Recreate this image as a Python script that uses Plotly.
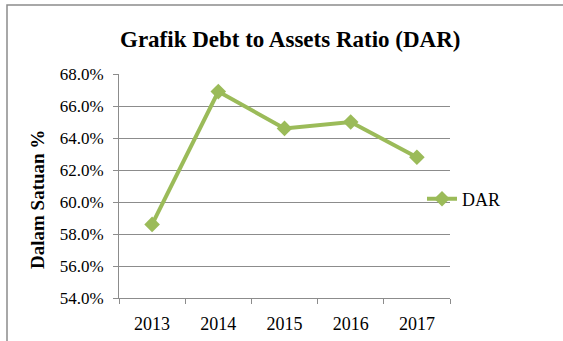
import plotly.graph_objects as go

years = ["2013", "2014", "2015", "2016", "2017"]
dar = [0.586, 0.669, 0.646, 0.650, 0.628]
series_name = "DAR"
title_text = "Grafik Debt to Assets Ratio (DAR)"
y_title = "Dalam Satuan %"

W, H = 563, 341
L, R, T, B = 119, 450, 74, 298

def px(x):
    return (x - L) / (R - L)

def py(y):
    return (B - y) / (B - T)

green = "#9BBB59"
grid = "#8C8C8C"
serif = "Liberation Serif, Times New Roman, serif"

fig = go.Figure()
fig.add_trace(go.Scatter(
    x=years, y=dar, name=series_name, mode="lines+markers",
    line=dict(color=green, width=4),
    marker=dict(symbol="diamond", size=12, color=green),
))

fig.update_layout(
    width=W, height=H,
    margin=dict(l=L, r=W - R, t=T, b=H - B, autoexpand=False),
    paper_bgcolor="white", plot_bgcolor="white",
    font=dict(family=serif, color="#000000"),
    showlegend=True,
    legend=dict(x=px(422), y=py(199), xanchor="left", yanchor="middle",
                font=dict(size=18, family=serif), bgcolor="rgba(0,0,0,0)",
                itemwidth=30),
    xaxis=dict(
        type="category", showgrid=False, showline=True, linecolor=grid, linewidth=1,
        ticks="outside", tickson="boundaries", ticklen=5, tickcolor=grid,
        tickfont=dict(size=18, family=serif), range=[-0.5, 4.5],
        ticklabelstandoff=9, automargin=False,
    ),
    yaxis=dict(
        range=[0.54, 0.68], dtick=0.02, tickformat=".1%",
        showgrid=True, gridcolor=grid, gridwidth=1,
        showline=True, linecolor=grid, linewidth=1,
        ticks="outside", ticklen=5, tickcolor=grid,
        tickfont=dict(size=17, family=serif),
        ticklabelstandoff=6, automargin=False,
        zeroline=False,
    ),
    annotations=[
        dict(text="<b>" + title_text + "</b>", x=px(290), y=py(39), xref="paper", yref="paper",
             showarrow=False, font=dict(size=23, family=serif), xanchor="center", yanchor="middle"),
        dict(text="<b>" + y_title + "</b>", x=px(37), y=py(200), xref="paper", yref="paper",
             showarrow=False, textangle=-90, font=dict(size=19, family=serif),
             xanchor="center", yanchor="middle"),
    ],
    shapes=[
        dict(type="rect", xref="paper", yref="paper",
             x0=px(7), x1=px(580), y0=py(350), y1=py(5),
             line=dict(color="#8C8C8C", width=1.5), layer="below"),
    ],
)

fig.write_html("out.html")
